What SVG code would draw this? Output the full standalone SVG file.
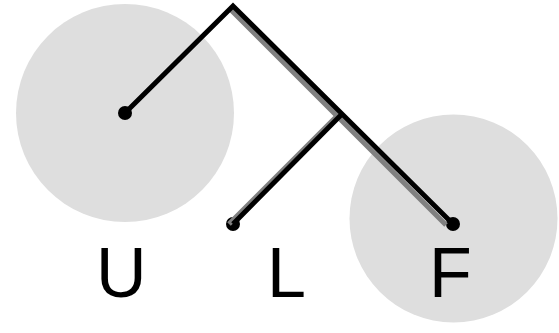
<svg xmlns="http://www.w3.org/2000/svg" width="559" height="333" viewBox="0 0 559 333">
<style>
.blob{fill:#dedede}
.edge{fill:none;stroke:#000;stroke-width:5;stroke-linejoin:miter;stroke-linecap:butt}
.shadow{fill:none;stroke:#808080;stroke-width:5}
.dot{fill:#000}
.lbl{font-family:"Liberation Sans",Arial,sans-serif;font-size:70px;fill:#000}
</style>
<rect width="559" height="333" fill="#fff"/>
<g id="node-U">
<circle class="blob" cx="125" cy="113" r="109"/>
<circle class="dot" cx="125" cy="113" r="7"/>
<text class="lbl" x="96" y="297">U</text>
</g>
<g id="node-F">
<circle class="blob" cx="453.5" cy="218.5" r="104"/>
<circle class="dot" cx="453" cy="224" r="7"/>
<text class="lbl" x="429" y="297">F</text>
</g>
<g id="node-L">
<circle class="dot" cx="233" cy="224" r="7"/>
<text class="lbl" x="267" y="297">L</text>
</g>
<g id="connectors">
<path class="shadow" d="M229,8 L337,116 L446,225 M337,116 L229,224"/>
<path class="edge" d="M125,113 L233,6 L453,224 M341,115 L233,224"/>
</g>
</svg>
